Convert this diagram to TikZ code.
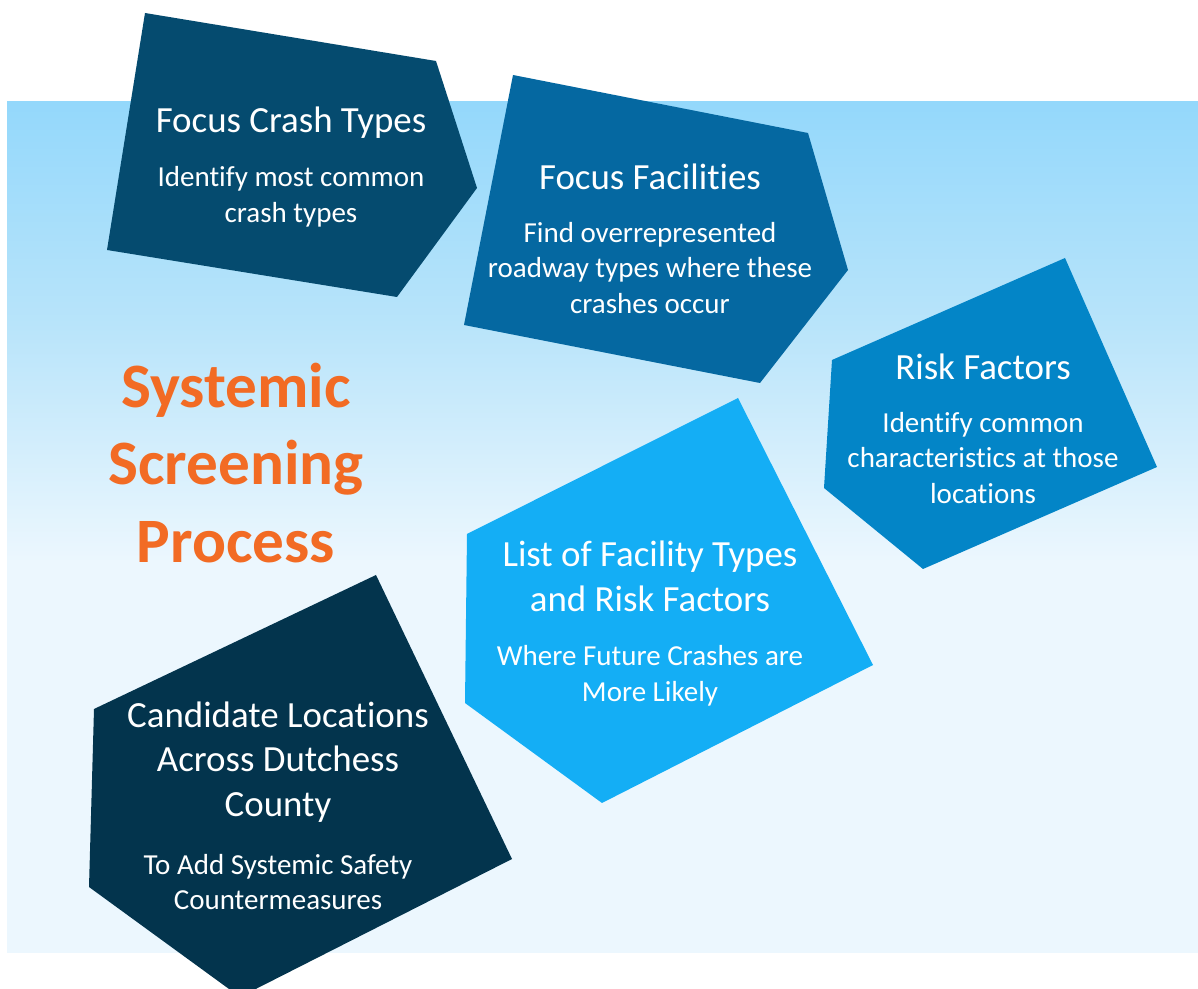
\documentclass[tikz,border=0pt]{standalone}
\usepackage{fontspec}
\setmainfont{Carlito}[Ligatures={NoCommon}]
\definecolor{bgtop}{HTML}{94D8FB}
\definecolor{bgmid}{HTML}{B8E4FA}
\definecolor{bgbot}{HTML}{ECF7FE}
\definecolor{stepA}{HTML}{054B6F}
\definecolor{stepB}{HTML}{0568A1}
\definecolor{stepC}{HTML}{0385C7}
\definecolor{stepD}{HTML}{14AEF5}
\definecolor{stepE}{HTML}{03344D}
\definecolor{titleorange}{HTML}{F26B24}
% background fade: light blue at the top, almost white in the lower half
\pgfdeclareverticalshading{bgfade}{100bp}{color(0bp)=(bgbot); color(25bp)=(bgbot); color(48bp)=(bgbot); color(62bp)=(bgmid); color(75bp)=(bgtop); color(100bp)=(bgtop)}
\begin{document}
\begin{tikzpicture}[x=0.02cm,y=-0.02cm,
  heading/.style={text=white, align=center, inner sep=0pt,
    font=\fontsize{21pt}{25.5pt}\selectfont},
  subtext/.style={text=white, align=center, inner sep=0pt,
    font=\fontsize{16.5pt}{20.4pt}\selectfont},
  titletext/.style={text=titleorange, align=center, inner sep=0pt,
    font=\fontsize{36pt}{44pt}\selectfont\bfseries}]
\useasboundingbox (0,0) rectangle (1198,989);
\shade[shading=bgfade] (7,102) rectangle (1198,953);

% the five pentagons
\fill[stepA] (145,13) -- (436,61) -- (477,188) -- (397,297) -- (107,250) -- cycle;
\fill[stepB] (513,75) -- (808,133) -- (848,270) -- (760,383) -- (464,325) -- cycle;
\fill[stepC] (1065,258) -- (1157,467) -- (923,569) -- (824,488) -- (832,360) -- cycle;
\fill[stepD] (738,398) -- (873,665) -- (602,803) -- (465,703) -- (467,534) -- cycle;
\fill[stepE] (376,575) -- (512,859) -- (240,997) -- (89,887) -- (94,709) -- cycle;

% title
\node[titletext] (title) at (236,463) {Systemic\\Screening\\Process};

% step texts
\node[heading] (h1) at (291,123) {Focus Crash Types};
\node[subtext] (s1) at (291,197) {Identify most common\\crash types};

\node[heading] (h2) at (650,177) {Focus Facilities};
\node[subtext] (s2) at (650,268) {Find overrepresented\\roadway types where these\\crashes occur};

\node[heading] (h3) at (983,367) {Risk Factors};
\node[subtext] (s3) at (983,458) {Identify common\\characteristics at those\\locations};

\node[heading] (h4) at (650,576) {List of Facility Types\\and Risk Factors};
\node[subtext] (s4) at (650,676) {Where Future Crashes are\\More Likely};

\node[heading] (h5) at (278,762) {Candidate Locations\\Across Dutchess\\County};
\node[subtext] (s5) at (278,882) {To Add Systemic Safety\\Countermeasures};
\end{tikzpicture}
\end{document}
